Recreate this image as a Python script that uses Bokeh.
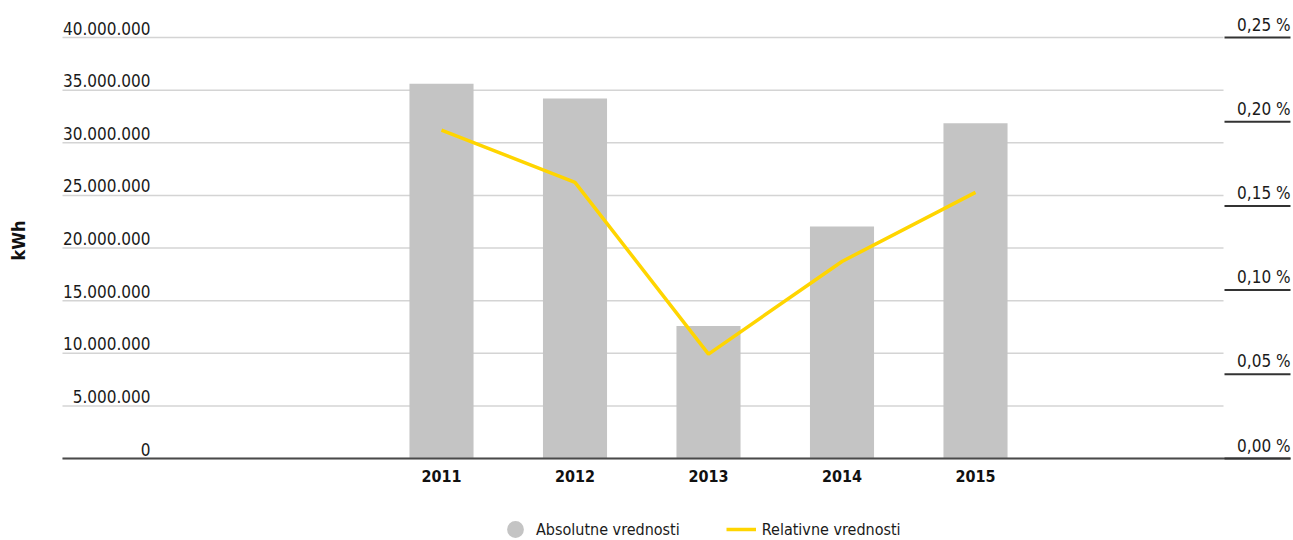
import math
from bokeh.plotting import figure
from bokeh.models import Range1d, ColumnDataSource, Legend, LegendItem
from bokeh.core.properties import value
from bokeh.embed import file_html
from bokeh.resources import INLINE

# ---------------- data ----------------
years = [2011, 2012, 2013, 2014, 2015]
absolute_kwh = [35_600_000, 34_200_000, 12_600_000, 22_050_000, 31_850_000]
relative_pct = [0.195, 0.164, 0.062, 0.117, 0.158]

left_ticks = [0, 5_000_000, 10_000_000, 15_000_000, 20_000_000,
              25_000_000, 30_000_000, 35_000_000, 40_000_000]
left_tick_labels = ["0", "5.000.000", "10.000.000", "15.000.000", "20.000.000",
                    "25.000.000", "30.000.000", "35.000.000", "40.000.000"]
right_ticks = [0.0, 0.05, 0.10, 0.15, 0.20, 0.25]
right_tick_labels = ["0,00 %", "0,05 %", "0,10 %", "0,15 %", "0,20 %", "0,25 %"]

y_label = "kWh"
series_names = ["Absolutne vrednosti", "Relativne vrednosti"]

# ---------------- style / layout (pixels on the canvas) ----------------
FONT = "DejaVu Sans Condensed"
BAR_COLOR = "#c4c4c4"
LINE_COLOR = "#ffd500"
GRID_COLOR = "#d4d4d4"
DARK = "#4a4a4a"
TEXT = "#1a1a1a"

W, H = 1293, 540
PX_PER_YEAR = 133.5
FIRST_CENTER = 441.0      # canvas x of first category
PLOT_LEFT = 62.0          # canvas x where gridlines start
GRID_RIGHT = 1223.0       # canvas x where gridlines end
RIGHT_EDGE = 1290.0       # canvas x where right labels / underlines end
LEFT_LABEL_RIGHT = 150.0  # canvas x where left labels end
ZERO_Y = 458.0            # canvas y of value 0
TOP_Y = 37.0              # canvas y of the highest tick
KWH_X, KWH_Y = 18.0, 240.0

def data_x(px):
    return years[0] + (px - FIRST_CENTER) / PX_PER_YEAR

units_per_px = left_ticks[-1] / (ZERO_Y - TOP_Y)
def data_y(py):
    return (ZERO_Y - py) * units_per_px

x_start, x_end = data_x(0), data_x(W)
y_start, y_end = data_y(H), data_y(0)
pct_scale = right_ticks[-1] / left_ticks[-1]

p = figure(width=W, height=H, output_backend="svg", toolbar_location=None,
           x_range=Range1d(x_start, x_end), y_range=Range1d(y_start, y_end),
           min_border=0, outline_line_color=None, x_axis_type=None,
           y_axis_type=None)
p.extra_y_ranges = {"pct": Range1d(y_start * pct_scale, y_end * pct_scale),
                    # range used only by the legend key renderer (off-frame)
                    "key": Range1d(-2.0, -1.0)}
p.xgrid.visible = False
p.ygrid.visible = False

n = len(left_ticks)
# gridlines (left scale) + labels
grid_src = ColumnDataSource(dict(x0=[data_x(PLOT_LEFT)] * n,
                                 x1=[data_x(GRID_RIGHT)] * n,
                                 y=left_ticks, label=left_tick_labels,
                                 lx=[data_x(LEFT_LABEL_RIGHT)] * n))
p.segment(x0="x0", y0="y", x1="x1", y1="y", source=grid_src,
          line_color=GRID_COLOR, line_width=1.5)
p.text(x="lx", y="y", text="label", source=grid_src, text_align="right",
       text_baseline="bottom", y_offset=-3, text_font=value(FONT),
       text_font_size="17px", text_color=TEXT)

# bars
bar_src = ColumnDataSource(dict(x=years, top=absolute_kwh, pct=relative_pct,
                                label=[str(y) for y in years]))
p.vbar(x="x", top="top", bottom=0, width=0.48, source=bar_src,
       fill_color=BAR_COLOR, line_color=None)

# baseline and year labels
p.segment(x0=[data_x(PLOT_LEFT)], y0=[0], x1=[data_x(RIGHT_EDGE)], y1=[0],
          line_color=DARK, line_width=2)
p.text(x="x", y=0, text="label", source=bar_src, text_align="center",
       text_baseline="top", y_offset=11, text_font=value(FONT),
       text_font_style="bold", text_font_size="16px", text_color="#111111")

# line on right scale
line = p.line(x="x", y="pct", source=bar_src, y_range_name="pct",
              line_color=LINE_COLOR, line_width=3.5)

# right-hand tick labels with underline
m = len(right_ticks)
r_src = ColumnDataSource(dict(x0=[data_x(GRID_RIGHT + 1)] * m,
                              x1=[data_x(RIGHT_EDGE)] * m,
                              y=right_ticks, label=right_tick_labels))
p.segment(x0="x0", y0="y", x1="x1", y1="y", source=r_src, y_range_name="pct",
          line_color="#333333", line_width=2)
p.text(x="x1", y="y", text="label", source=r_src, y_range_name="pct",
       text_align="right", text_baseline="bottom", y_offset=-3,
       text_font=value(FONT), text_font_size="17px", text_color=TEXT)

# y title
p.text(x=[data_x(KWH_X)], y=[data_y(KWH_Y)], text=[y_label], angle=math.pi / 2,
       text_align="center", text_baseline="middle", text_font=value(FONT),
       text_font_style="bold", text_font_size="18px", text_color="#111111")

# legend (circle key for the bars: marker renderer mapped outside the frame)
dot = p.scatter(x="x", y="top", source=bar_src, y_range_name="key",
                marker="circle", size=9, fill_color=BAR_COLOR,
                line_color=BAR_COLOR, line_width=8)
legend = Legend(items=[LegendItem(label=series_names[0], renderers=[dot]),
                       LegendItem(label=series_names[1], renderers=[line])],
                orientation="horizontal", location=(500, 0),
                border_line_color=None, background_fill_alpha=0,
                label_text_font=FONT, label_text_font_size="16px",
                label_text_color=TEXT, glyph_width=30, glyph_height=22,
                spacing=46, label_standoff=6, margin=0, padding=3)
p.add_layout(legend)

open("out.html", "w").write(file_html(p, INLINE))
